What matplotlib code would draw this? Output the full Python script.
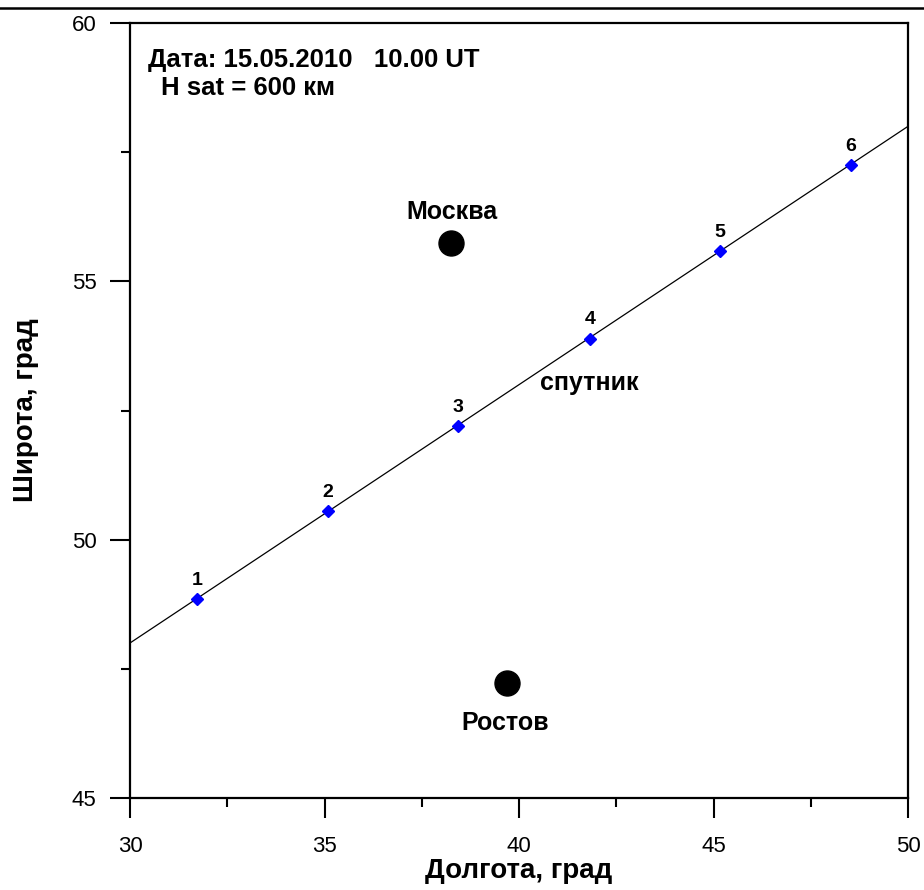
import matplotlib
matplotlib.use("Agg")
import matplotlib.pyplot as plt
from matplotlib.lines import Line2D
from matplotlib.ticker import MultipleLocator

plt.rcParams['font.family'] = ['Liberation Sans', 'DejaVu Sans']

# Satellite track points
sat_lon = [31.72, 35.09, 38.43, 41.83, 45.17, 48.53]
sat_lat = [48.85, 50.55, 52.20, 53.89, 55.58, 57.25]
sat_labels = ['1', '2', '3', '4', '5', '6']

# Track line (end points at the axes limits)
track_lon = [30, 50]
track_lat = [48.0, 58.0]

# Cities
city_names = ['Москва', 'Ростов']
city_lon = [38.25, 39.68]
city_lat = [55.75, 47.23]

fig = plt.figure(figsize=(9.24, 8.90), dpi=100)
ax = fig.add_axes([130/924, 1-798/890, 778/924, 775/890])

ax.plot(track_lon, track_lat, color='black', lw=0.9, zorder=2)
ax.plot(sat_lon, sat_lat, linestyle='none', marker='D', color='#0000ff',
        markersize=6.5, zorder=3)
for x, y, t in zip(sat_lon, sat_lat, sat_labels):
    ax.annotate(t, (x, y), xytext=(0, 13.5), textcoords='offset points',
                ha='center', va='center', fontsize=14, fontweight='bold')

ax.plot(city_lon, city_lat, linestyle='none', marker='o', color='black',
        markersize=18, zorder=3)
ax.text(38.28, 56.34, city_names[0], ha='center', va='center', fontsize=18, fontweight='bold')
ax.text(39.64, 46.45, city_names[1], ha='center', va='center', fontsize=18, fontweight='bold')
ax.text(41.8, 53.03, 'спутник', ha='center', va='center', fontsize=18, fontweight='bold')

ax.text(30.46, 59.28, 'Дата: 15.05.2010   10.00 UT', ha='left', va='center',
        fontsize=18.5, fontweight='bold')
ax.text(30.80, 58.74, 'H sat = 600 км', ha='left', va='center',
        fontsize=18.5, fontweight='bold')

ax.set_xlim(30, 50)
ax.set_ylim(45, 60)
ax.xaxis.set_major_locator(MultipleLocator(5))
ax.xaxis.set_minor_locator(MultipleLocator(2.5))
ax.yaxis.set_major_locator(MultipleLocator(5))
ax.yaxis.set_minor_locator(MultipleLocator(2.5))
ax.tick_params(which='major', direction='out', length=14.5, width=1.5,
               labelsize=16)
ax.tick_params(which='minor', direction='out', length=6.5, width=1.5)
ax.tick_params(axis='x', which='major', pad=12.5)
ax.tick_params(axis='y', which='major', pad=9.5)
for s in ax.spines.values():
    s.set_linewidth(1.6)

ax.set_xlabel('Долгота, град', fontsize=20, fontweight='bold', labelpad=1)
ax.set_ylabel('Широта, град', fontsize=20, fontweight='bold', labelpad=24)

fig.add_artist(Line2D([0, 1], [1-8/890, 1-8/890], transform=fig.transFigure,
                      color='black', lw=1.8))

fig.savefig('out.png', dpi=100)
